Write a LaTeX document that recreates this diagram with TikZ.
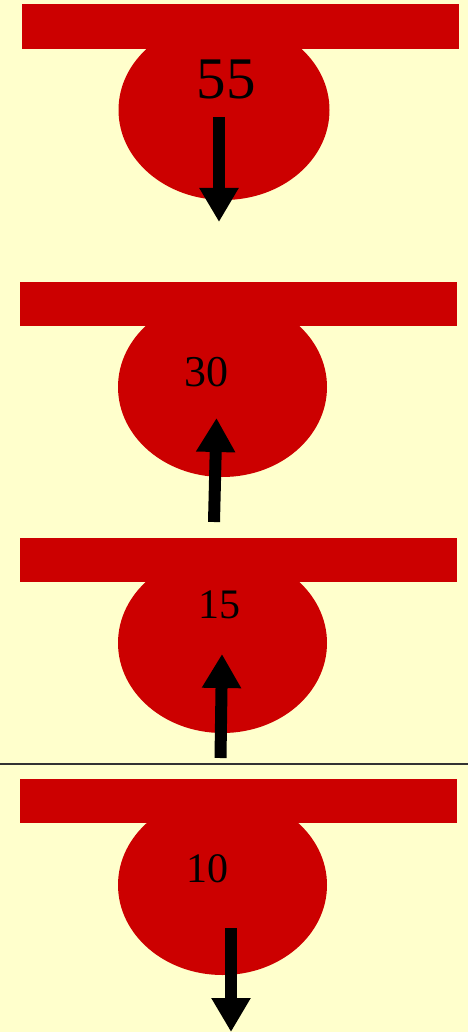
\documentclass[tikz,border=0pt]{standalone}
\usepackage{fontspec}
\setmainfont{Liberation Serif}
\usetikzlibrary{arrows.meta}
\definecolor{paper}{HTML}{FFFFCC}
\definecolor{tred}{HTML}{CC0000}
\tikzset{
  tbar/.style={fill=tred},
  tbulb/.style={fill=tred},
  tlabel/.style={inner sep=0pt, text=black},
  force/.style={line width=12pt, draw=black,
    -{Triangle[width=37pt,length=34pt]}},
}
\begin{document}
\begin{tikzpicture}[x=1pt,y=-1pt]
  \fill[paper] (0,0) rectangle (468,1032);
  \useasboundingbox (0,0) rectangle (468,1032);

  % first T-shape
  \fill[tbulb] (224,110) ellipse [x radius=105.5, y radius=90];
  \fill[tbar] (22,4) rectangle (459,49);
  \node[tlabel, font=\fontsize{59}{60}\selectfont] (n55) at (226,79) {55};
  \coordinate (a1s) at (219,117);
  \coordinate (a1e) at (219,222);
  \draw[force] (a1s) -- (a1e);

  % second T-shape
  \fill[tbulb] (222.5,387) ellipse [x radius=104.5, y radius=90];
  \fill[tbar] (20,282) rectangle (457,326);
  \node[tlabel, font=\fontsize{44}{45}\selectfont] (n30) at (206,372.5) {30};
  \coordinate (a2s) at (214,522);
  \coordinate (a2e) at (216.5,418);
  \draw[force] (a2s) -- (a2e);

  % third T-shape
  \fill[tbulb] (222.5,643) ellipse [x radius=104.5, y radius=90];
  \fill[tbar] (20,538) rectangle (457,582);
  \node[tlabel, font=\fontsize{42}{43}\selectfont] (n15) at (219,605) {15};
  \coordinate (a3s) at (220.5,758);
  \coordinate (a3e) at (222,654);
  \draw[force] (a3s) -- (a3e);

  % separator
  \coordinate (sepl) at (0,764);
  \coordinate (sepr) at (468,764);
  \draw[line width=1.5pt, draw=black!80] (sepl) -- (sepr);

  % fourth T-shape
  \fill[tbulb] (222.5,885) ellipse [x radius=104.5, y radius=90];
  \fill[tbar] (20,779) rectangle (457,823);
  \node[tlabel, font=\fontsize{42}{43}\selectfont] (n10) at (207.5,869) {10};
  \coordinate (a4s) at (231,928);
  \coordinate (a4e) at (231,1032);
  \draw[force] (a4s) -- (a4e);
\end{tikzpicture}
\end{document}
